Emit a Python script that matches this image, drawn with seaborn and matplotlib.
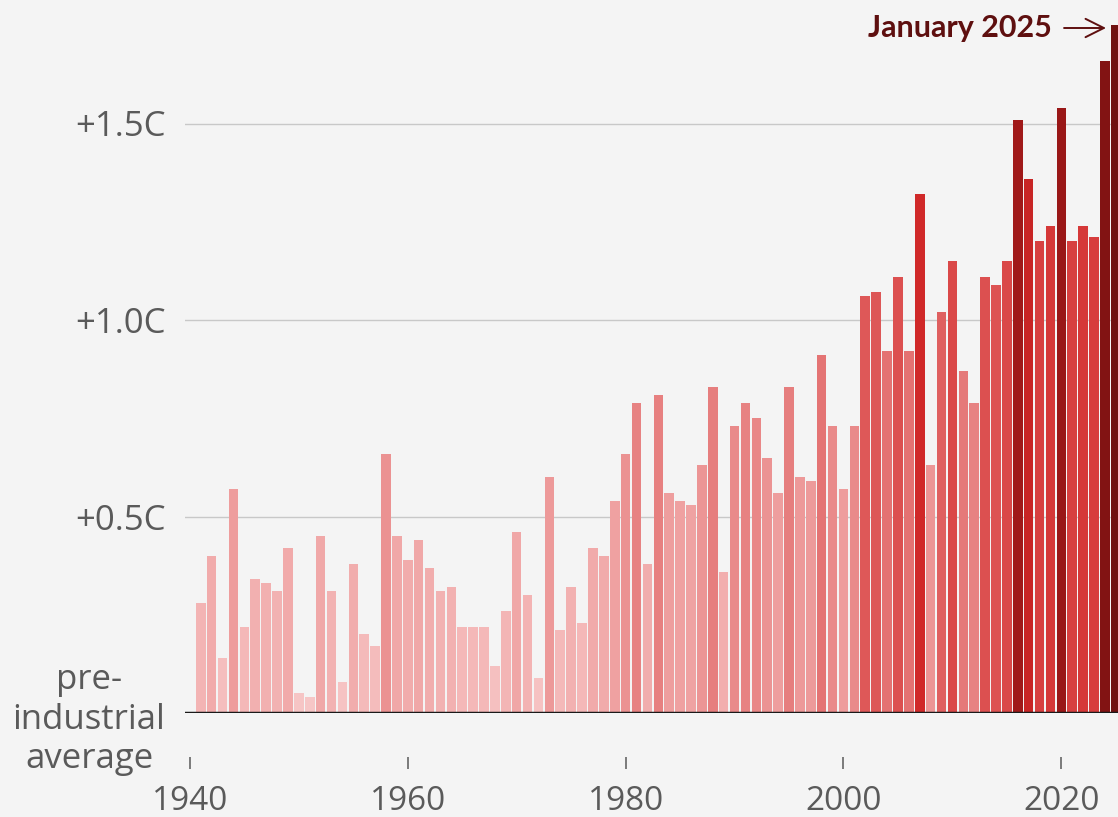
import numpy as np
import pandas as pd
import matplotlib
matplotlib.use('Agg')
import matplotlib.pyplot as plt
import seaborn as sns
from matplotlib.colors import LinearSegmentedColormap

# January temperature anomaly vs pre-industrial average (C)
years = list(range(1941, 2026))
anomaly = [
    0.28, 0.40, 0.14, 0.57, 0.22, 0.34, 0.33, 0.31, 0.42,        # 1941-1949
    0.05, 0.04, 0.45, 0.31, 0.08, 0.38, 0.20, 0.17, 0.66, 0.45,  # 1950-1959
    0.39, 0.44, 0.37, 0.31, 0.32, 0.22, 0.22, 0.22, 0.12, 0.26,  # 1960-1969
    0.46, 0.30, 0.09, 0.60, 0.21, 0.32, 0.23, 0.42, 0.40, 0.54,  # 1970-1979
    0.66, 0.79, 0.38, 0.81, 0.56, 0.54, 0.53, 0.63, 0.83, 0.36,  # 1980-1989
    0.73, 0.79, 0.75, 0.65, 0.56, 0.83, 0.60, 0.59, 0.91, 0.73,  # 1990-1999
    0.57, 0.73, 1.06, 1.07, 0.92, 1.11, 0.92, 1.32, 0.63, 1.02,  # 2000-2009
    1.15, 0.87, 0.79, 1.11, 1.09, 1.15, 1.51, 1.36, 1.20, 1.24,  # 2010-2019
    1.54, 1.20, 1.24, 1.21, 1.66, 1.75,                          # 2020-2025
]
ytick_vals = [0, 0.5, 1.0, 1.5]
ytick_labels = ['pre-\nindustrial\naverage', '+0.5C', '+1.0C', '+1.5C']
xtick_vals = [1940, 1960, 1980, 2000, 2020]

df = pd.DataFrame({'year': years, 'anomaly': anomaly})

cmap = LinearSegmentedColormap.from_list('heat', [
    (0.0, '#f7c8c8'),
    (0.30, '#efa2a2'),
    (0.52, '#e47474'),
    (0.66, '#da4848'),
    (0.76, '#d02828'),
    (0.84, '#a81a1a'),
    (1.0, '#701010'),
])

bg = '#f4f4f4'
grey = '#5a5a5a'
plt.rcParams['font.family'] = ['Open Sans', 'DejaVu Sans']

fig = plt.figure(figsize=(11.18, 8.17), dpi=100, facecolor=bg)
ax = fig.add_axes([185 / 1118, 104 / 817, 1 - 185 / 1118, 713 / 817])
ax.set_facecolor(bg)

sns.barplot(data=df, x='year', y='anomaly', hue='anomaly', palette=cmap,
            hue_norm=(0, 1.75), native_scale=True, dodge=False, legend=False,
            errorbar=None, width=0.88, linewidth=0, saturation=1, ax=ax)

ax.set_xlim(1939.55, 2025.2)
ax.set_ylim(0, 713 / 393)

ax.set_axisbelow(True)
ax.yaxis.grid(True, color='#c8c8c8', linewidth=1)
ax.xaxis.grid(False)
ax.axhline(0, color='#1a1a1a', linewidth=2.5, zorder=5)

for s in ['top', 'right', 'left', 'bottom']:
    ax.spines[s].set_visible(False)
ax.spines['bottom'].set_position(('outward', 32))

ax.set_yticks(ytick_vals)
ax.set_yticklabels(ytick_labels)
for lab in ax.get_yticklabels():
    lab.set_multialignment('center')
ax.tick_params(axis='y', length=0, pad=14, labelsize=25, labelcolor=grey)

ax.set_xticks(xtick_vals)
ax.set_xticklabels([str(x) for x in xtick_vals])
ax.tick_params(axis='x', length=8.6, width=1.1, color=grey, pad=11,
               labelsize=24, labelcolor=grey)

ax.set_xlabel('')
ax.set_ylabel('')

ax.annotate('January 2025', xy=(2024.1, 1.743), xytext=(2019.1, 1.743),
            ha='right', va='center', fontsize=22, fontweight='bold',
            family=['Lato', 'DejaVu Sans'], color='#5e0f0f',
            arrowprops=dict(arrowstyle='->,head_length=0.6,head_width=0.3',
                            color='#5e0f0f', lw=1.4, shrinkA=7, shrinkB=0))

fig.savefig('out.png', dpi=100, facecolor=bg)
